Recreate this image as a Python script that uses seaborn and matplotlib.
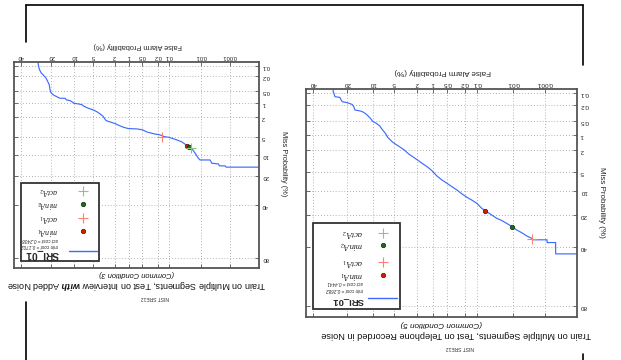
import numpy as np
import matplotlib
matplotlib.use("Agg")
import matplotlib.pyplot as plt
import seaborn as sns
from statistics import NormalDist
from matplotlib.lines import Line2D
from matplotlib.patches import Rectangle
from matplotlib.ticker import NullLocator

# ---------------- data (percent) ----------------
fa_ticks = [0.001, 0.01, 0.1, 0.2, 0.5, 1, 2, 5, 10, 20, 40]
fa_tick_labels = ["0.001", "0.01", "0.1", "0.2", "0.5", "1", "2", "5", "10", "20", "40"]
miss_ticks = [0.1, 0.2, 0.5, 1, 2, 5, 10, 20, 40, 80]
miss_tick_labels = ["0.1", "0.2", "0.5", "1", "2", "5", "10", "20", "40", "80"]

# Common Condition 3 (interview with added noise)
cc3_fa = [28.1, 27.7, 27.0, 26.0, 24.6, 23.2, 22.6, 21.1, 20.7, 20.2, 18.9, 17.3, 15.7,
          13.5, 12.8, 11.5, 10.9, 10.1, 8.69, 7.72, 7.27, 6.59, 5.81, 4.97, 4.34, 3.79,
          3.29, 3.06, 2.93, 2.45, 1.95, 1.59, 1.307, 1.017, 0.657, 0.569, 0.473, 0.377,
          0.282, 0.218, 0.171, 0.133, 0.101, 0.076, 0.058, 0.0413, 0.0305, 0.0241,
          0.0189, 0.0159, 0.0141, 0.0125, 0.0110, 0.00508, 0.00444, 0.00259, 0.00239,
          0.00149, 0.00137, 0.00001]
cc3_miss = [0.05, 0.0935, 0.126, 0.157, 0.183, 0.217, 0.242, 0.345, 0.466, 0.545, 0.625,
            0.687, 0.755, 0.755, 0.829, 0.859, 0.909, 0.996, 1.033, 1.07, 1.148, 1.235,
            1.324, 1.42, 1.55, 1.74, 1.99, 2.27, 2.42, 2.58, 2.79, 3.06, 3.30, 3.51,
            3.56, 3.62, 3.72, 4.07, 4.31, 4.50, 4.63, 4.97, 5.11, 5.40, 5.71, 6.19,
            6.97, 7.64, 8.44, 9.54, 10.5, 11.4, 12.1, 12.1, 13.5, 13.8, 14.7, 14.7,
            15.3, 15.3]
cc3_min_a1 = ([0.0285], [7.26])
cc3_act_a1 = ([0.151], [5.04])
cc3_min_a2 = ([0.0247], [7.64])
cc3_act_a2 = ([0.0214], [7.93])
cc3_costs = ("0.1702", "0.2408")

# Common Condition 5 (telephone recorded in noise)
cc5_fa = [27.7, 27.5, 27.1, 26.5, 23.8, 23.1, 22.5, 20.0, 17.7, 17.0, 16.5, 14.2, 13.0,
          11.8, 10.7, 9.87, 8.90, 8.01, 7.42, 6.65, 6.14, 5.28, 4.70, 3.90, 3.36, 2.83,
          2.32, 1.97, 1.63, 1.31, 1.047, 0.831, 0.655, 0.511, 0.398, 0.307, 0.235,
          0.179, 0.135, 0.101, 0.0757, 0.0619, 0.0456, 0.0301, 0.0218, 0.0157, 0.0110,
          0.00794, 0.00560, 0.00393, 0.00272, 0.00241, 0.00083, 0.00083, 0.00042,
          0.00042, 0.00001]
cc5_miss = [0.05, 0.090, 0.1, 0.123, 0.128, 0.150, 0.166, 0.176, 0.195, 0.223, 0.269,
            0.285, 0.307, 0.356, 0.428, 0.511, 0.559, 0.642, 0.761, 0.931, 1.133, 1.394,
            1.554, 1.81, 2.04, 2.43, 2.80, 3.14, 3.59, 4.10, 4.80, 5.86, 6.77, 7.61,
            8.53, 9.53, 10.8, 12.0, 13.1, 14.4, 16.6, 17.7, 19.3, 21.6, 22.8, 24.4,
            26.3, 28.4, 30.1, 32.2, 33.8, 34.9, 34.9, 36.8, 36.8, 44.9, 44.9]
cc5_min_a1 = ([0.0619], [17.7])
cc5_act_a1 = ([0.00266], [34.2])
cc5_min_a2 = ([0.0110], [26.4])
cc5_act_a2 = ([], [])
cc5_costs = ("0.2682", "0.4441")

system_name = "SRI_01"

# ---------------- style ----------------
sns.set_theme(style="white")
plt.rcParams["font.family"] = ["Liberation Sans", "DejaVu Sans"]
plt.rcParams["mathtext.fontset"] = "custom"
plt.rcParams["mathtext.rm"] = "Liberation Serif"
plt.rcParams["mathtext.it"] = "Liberation Serif:italic"
plt.rcParams["mathtext.bf"] = "Liberation Sans:italic:bold"

BLUE = "#3d6bff"
RED_DOT = "#cc2200"
RED_PLUS = "#ff8070"
GREEN_DOT = "#1d6a1d"
GREEN_PLUS = "#80cc80"

_nd = NormalDist()


def _ppf1(p):
    try:
        q = min(max(p / 100.0, 1e-12), 1 - 1e-12)
        return _nd.inv_cdf(q)
    except Exception:
        return np.nan


def _cdf1(z):
    try:
        return _nd.cdf(z) * 100.0
    except Exception:
        return np.nan


_ppf = np.vectorize(_ppf1, otypes=[float])
_cdf = np.vectorize(_cdf1, otypes=[float])


def fwd(x):
    return _ppf(np.asarray(x, dtype=float))


def inv(z):
    return _cdf(np.asarray(z, dtype=float))


W, H = 621, 360
fig = plt.figure(figsize=(W / 100, H / 100), dpi=100)
fig.patch.set_facecolor("white")


def add_axes_px(x0, y0, x1, y1):
    return fig.add_axes([x0 / W, 1 - y1 / H, (x1 - x0) / W, (y1 - y0) / H])


def setup(ax, tick_fs):
    ax.set_xscale("function", functions=(fwd, inv))
    ax.set_yscale("function", functions=(fwd, inv))
    ax.set_xlim(45, 7e-5)
    ax.set_ylim(85, 0.076)
    ax.set_xticks(fa_ticks, fa_tick_labels)
    ax.set_yticks(miss_ticks, miss_tick_labels)
    ax.xaxis.set_minor_locator(NullLocator())
    ax.yaxis.set_minor_locator(NullLocator())
    ax.xaxis.tick_top()
    ax.yaxis.tick_right()
    ax.tick_params(which="major", direction="in", length=3, width=0.6, color="#555555",
                   top=True, bottom=True, left=True, right=True,
                   labeltop=True, labelbottom=False, labelleft=False, labelright=True,
                   labelsize=tick_fs, pad=2, labelcolor="#222222")
    ax.tick_params(axis="x", labelrotation=180)
    ax.tick_params(axis="y", labelrotation=180)
    ax.grid(True, linestyle=(0, (1, 2.5)), color="#9a9a9a", linewidth=0.6)
    for sp in ax.spines.values():
        sp.set_color("#555555")
        sp.set_linewidth(1.3)
    ax.set_facecolor("white")


def draw_panel(box, fa, miss, min1, act1, min2, act2, costs, cond, title, tick_fs,
               lab_fs, title_fs, cond_fs, leg, title_dx):
    x0, y0, x1, y1 = box
    ax = add_axes_px(*box)
    setup(ax, tick_fs)
    sns.lineplot(x=fa, y=miss, sort=False, estimator=None, color=BLUE, linewidth=0.85,
                 ax=ax, legend=False)
    ax.plot(min1[0], min1[1], ls="none", marker="o", ms=3.2, mfc=RED_DOT, mec="#551100", mew=0.5)
    ax.plot(min2[0], min2[1], ls="none", marker="o", ms=3.2, mfc=GREEN_DOT, mec="#0b2e0b", mew=0.5)
    ax.plot(act1[0], act1[1], ls="none", marker="+", ms=7, color=RED_PLUS, mew=0.8)
    ax.plot(act2[0], act2[1], ls="none", marker="+", ms=7, color=GREEN_PLUS, mew=0.8)
    ax.set_xlabel("")
    ax.set_ylabel("")

    def ac(px, py):
        return ((px - x0) / (x1 - x0), (y1 - py) / (y1 - y0))

    # axis labels
    ax.set_xlabel("False Alarm Probability (%)", fontsize=lab_fs, rotation=180)
    ax.xaxis.set_label_coords(*ac((x0 + x1) / 2 + 1, y0 - 17))
    ax.xaxis.label.set(ha="center", va="center")
    ax.set_ylabel("Miss Probability (%)", fontsize=lab_fs)
    ax.yaxis.set_label_position("right")
    ax.yaxis.set_label_coords(*ac(x1 + 24, (y0 + y1) / 2 - 1))
    ax.yaxis.label.set(rotation=270, rotation_mode="default", ha="center", va="center")

    # titles below (upside down)
    cx = (x0 + x1) / 2
    ax.text(*ac(cx, y1 + 6), cond, transform=ax.transAxes, rotation=180, ha="center",
            va="center", fontsize=cond_fs, style="italic", color="#111111")
    ax.text(*ac(cx + title_dx, y1 + 17), title, transform=ax.transAxes, rotation=180,
            ha="center", va="center", fontsize=title_fs, color="#111111")
    ax.text(*ac(cx + 18, y1 + 30), "NIST SRE12", transform=ax.transAxes, rotation=180,
            ha="center", va="center", fontsize=3.6, color="#333333")

    # legend (drawn upside down, manually laid out)
    lx0, ly0, lx1, ly1 = leg["box"]
    a = ac(lx0, ly1)
    b = ac(lx1, ly0)
    ax.add_patch(Rectangle(a, b[0] - a[0], b[1] - a[1], transform=ax.transAxes,
                           facecolor="white", edgecolor="#333333", linewidth=1.3,
                           zorder=5, clip_on=False))
    mk_x = leg["mk_x"]
    tx = leg["text_x"]
    rows = leg["rows"]
    entries = [
        ("$actA_2$", "+", GREEN_PLUS, None),
        ("$minA_2$", "o", GREEN_DOT, "#0b2e0b"),
        ("$actA_1$", "+", RED_PLUS, None),
        ("$minA_1$", "o", RED_DOT, "#551100"),
    ]
    for (lab, mk, col, ec), ry in zip(entries, rows[:4]):
        if mk == "+":
            ax.plot(*[[v] for v in ac(mk_x, ry)], transform=ax.transAxes, marker="+", ms=7,
                    mew=0.8, color=col, ls="none", zorder=6, clip_on=False)
        else:
            ax.plot(*[[v] for v in ac(mk_x, ry)], transform=ax.transAxes, marker="o", ms=3.2,
                    mfc=col, mec=ec, mew=0.5, ls="none", zorder=6, clip_on=False)
        ax.text(*ac(tx, ry), lab, transform=ax.transAxes, rotation=180, ha="right",
                va="center", fontsize=leg["lab_fs"], zorder=6)
    ax.text(*ac(tx, rows[4]), f"act cost = {costs[1]}", transform=ax.transAxes,
            rotation=180, ha="right", va="center", fontsize=3.3, style="italic", zorder=6)
    ax.text(*ac(tx, rows[5]), f"min cost = {costs[0]}", transform=ax.transAxes,
            rotation=180, ha="right", va="center", fontsize=3.3, style="italic", zorder=6)
    ax.text(*ac(tx + 1, rows[6]), system_name, transform=ax.transAxes, rotation=180,
            ha="right", va="center", fontsize=leg["sys_fs"], fontweight="bold", zorder=6)
    la = ac(leg["line"][0], leg["line"][2])
    lb = ac(leg["line"][1], leg["line"][2])
    ax.add_line(Line2D([la[0], lb[0]], [la[1], lb[1]], transform=ax.transAxes,
                       color=BLUE, linewidth=1.0, zorder=6, clip_on=False))
    return ax


draw_panel((14, 62, 259, 268), cc3_fa, cc3_miss, cc3_min_a1, cc3_act_a1, cc3_min_a2,
           cc3_act_a2, cc3_costs, "(Common Condition 3)",
           r"Train on Multiple Segments, Test on Interview $\mathbf{with}$ Added Noise",
           tick_fs=4.2, lab_fs=5.3, title_fs=6.5, cond_fs=5.4,
           leg=dict(box=(21, 183, 99, 261), mk_x=83, text_x=58,
                    rows=[190.5, 204, 217.5, 231, 239, 245, 254.5],
                    line=(69, 97, 251), lab_fs=5.8, sys_fs=7.3),
           title_dx=0)

draw_panel((306, 89, 577, 317), cc5_fa, cc5_miss, cc5_min_a1, cc5_act_a1, cc5_min_a2,
           cc5_act_a2, cc5_costs, "(Common Condition 5)",
           "Train on Multiple Segments, Test on Telephone Recorded in Noise",
           tick_fs=4.6, lab_fs=5.8, title_fs=6.6, cond_fs=5.9,
           leg=dict(box=(313, 223, 400, 309), mk_x=383, text_x=363,
                    rows=[233, 245, 262, 275, 282.5, 290, 301],
                    line=(368, 397, 298), lab_fs=6.3, sys_fs=6.8),
           title_dx=15)

# page frame fragments
def frame_line(xa, ya, xb, yb):
    fig.add_artist(Line2D([xa / W, xb / W], [1 - ya / H, 1 - yb / H], color="black",
                          linewidth=1.2, transform=fig.transFigure))


frame_line(26, 5, 583, 5)
frame_line(26, 5, 26, 42)
frame_line(583, 5, 583, 65)
frame_line(26, 302, 26, 360)
frame_line(583, 354, 583, 360)

fig.savefig("out.png", dpi=100, facecolor="white")
